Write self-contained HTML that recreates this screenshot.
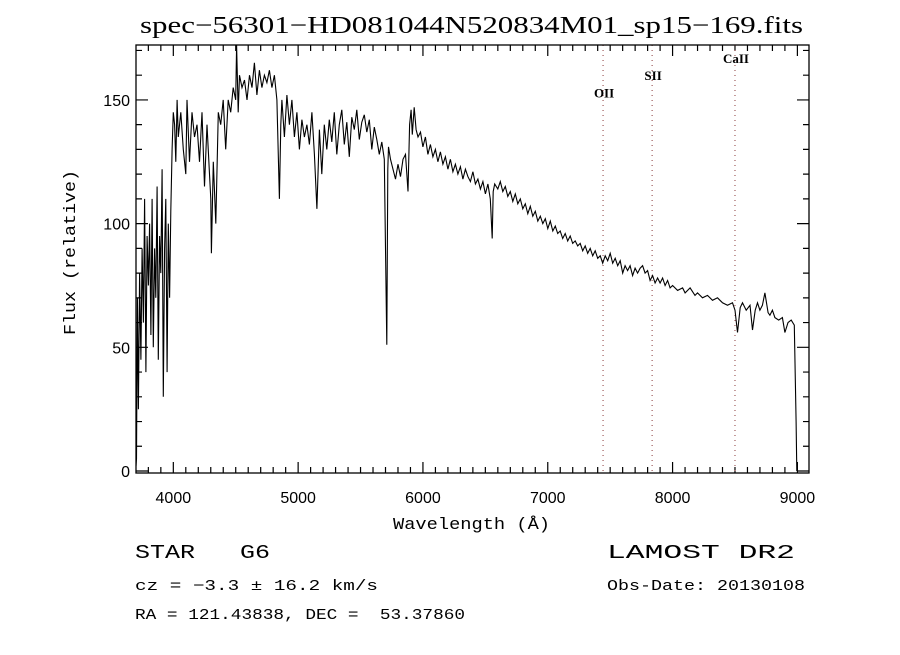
<!DOCTYPE html>
<html><head><meta charset="utf-8"><style>
body{margin:0;background:#fff;width:900px;height:650px;overflow:hidden}
svg text{fill:#000;white-space:pre}
</style></head><body>
<svg id="chart" width="900" height="650" xmlns="http://www.w3.org/2000/svg">
<rect width="900" height="650" fill="#fff"/>
<text x="140" y="33" textLength="663" lengthAdjust="spacingAndGlyphs" font-family="Liberation Serif, serif" font-size="24">spec−56301−HD081044N520834M01_sp15−169.fits</text>
<g id="ticks"></g>
<g id="lines"></g>
<g id="series"></g>
<rect x="136" y="45" width="673" height="428" fill="none" stroke="#000" stroke-width="1.3"/>
<text x="393" y="529" textLength="157" lengthAdjust="spacingAndGlyphs" font-family="Liberation Mono, monospace" font-size="17">Wavelength (Å)</text>
<text transform="translate(75,335) rotate(-90)" textLength="165" lengthAdjust="spacingAndGlyphs" font-family="Liberation Mono, monospace" font-size="17">Flux (relative)</text>
<text x="135" y="558" textLength="135" lengthAdjust="spacingAndGlyphs" font-family="Liberation Mono, monospace" font-size="19">STAR   G6</text>
<text x="135" y="590" textLength="243" lengthAdjust="spacingAndGlyphs" font-family="Liberation Mono, monospace" font-size="15">cz = −3.3 ± 16.2 km/s</text>
<text x="135" y="619" textLength="330" lengthAdjust="spacingAndGlyphs" font-family="Liberation Mono, monospace" font-size="15">RA = 121.43838, DEC =  53.37860</text>
<text x="607" y="558" textLength="188" lengthAdjust="spacingAndGlyphs" font-family="Liberation Mono, monospace" font-size="19">LAMOST DR2</text>
<text x="607" y="590" textLength="198" lengthAdjust="spacingAndGlyphs" font-family="Liberation Mono, monospace" font-size="15">Obs-Date: 20130108</text>
</svg>
<script>
const wave=[3701,3705,3712,3720,3730,3740,3750,3760,3770,3780,3790,3800,3810,3820,3830,3840,3850,3860,3870,3880,3890,3900,3910,3920,3930,3940,3950,3960,3970,3980,3990,4000,4010,4020,4030,4040,4060,4080,4100,4110,4130,4150,4170,4190,4210,4230,4250,4270,4290,4300,4305,4320,4340,4360,4380,4400,4420,4440,4460,4480,4500,4507,4520,4530,4550,4570,4590,4610,4630,4650,4670,4690,4710,4730,4750,4770,4790,4810,4830,4850,4861,4870,4890,4910,4930,4950,4970,4990,5010,5030,5050,5070,5090,5110,5130,5150,5170,5190,5210,5230,5250,5270,5290,5310,5330,5350,5370,5390,5410,5430,5450,5470,5490,5510,5530,5550,5570,5590,5610,5630,5650,5670,5690,5710,5718,5724,5740,5760,5780,5800,5820,5840,5860,5880,5893,5905,5915,5930,5945,5960,5980,6000,6020,6040,6060,6080,6100,6120,6140,6160,6180,6200,6220,6240,6260,6280,6300,6320,6340,6360,6380,6400,6420,6440,6460,6480,6500,6520,6540,6555,6563,6575,6600,6620,6640,6660,6680,6700,6720,6740,6760,6780,6800,6820,6840,6860,6880,6900,6920,6940,6960,6980,7000,7020,7040,7060,7080,7100,7120,7140,7160,7180,7200,7220,7240,7260,7280,7300,7320,7340,7360,7380,7400,7420,7440,7460,7480,7500,7520,7540,7560,7580,7600,7620,7640,7660,7680,7700,7720,7740,7760,7780,7800,7820,7840,7860,7880,7900,7920,7940,7960,7980,8000,8040,8080,8100,8140,8180,8200,8240,8280,8320,8360,8400,8440,8480,8500,8520,8542,8560,8590,8620,8640,8662,8680,8700,8720,8740,8765,8780,8800,8820,8850,8880,8900,8925,8950,8975,8990,8995,9000];
const flux=[2,5,70,25,80,45,90,60,110,40,95,75,100,55,110,50,90,70,115,45,95,80,122,30,90,110,40,100,70,105,130,145,140,125,150,135,145,130,120,150,125,145,135,140,125,145,115,140,120,110,88,125,100,145,140,150,130,150,145,155,150,172,145,160,155,158,150,160,155,165,152,162,155,160,157,162,155,160,150,110,140,150,135,152,140,150,135,145,130,142,135,140,132,145,128,106,138,120,140,130,142,133,145,128,140,146,132,141,127,143,138,146,134,141,144,137,142,130,139,134,128,133,126,51,122,131,126,122,118,124,119,126,128,113,140,146,136,147,138,135,137,131,135,128,132,127,130,125,129,124,127,122,126,121,124,120,123,118,122,119,117,121,116,118,114,117,112,116,110,94,113,116,114,117,113,115,111,113,109,112,108,110,106,108,104,107,103,105,101,103,100,102,98,101,97,99,96,97,94,96,93,95,92,93,91,92,89,91,88,90,87,89,86,87,84,87,85,88,84,86,83,85,80,83,81,83,79,82,80,82,83,80,81,77,79,76,78,76,78,75,77,74,75,73,74,72,74,71,72,70,71,69,70,68,67,68,65,56,66,68,65,67,57,65,68,65,67,72,64,63,65,62,61,62,56,60,61,59,20,0];
const xTicks=[4000,5000,6000,7000,8000,9000];
const yTicks=[0,50,100,150];
const lineNames=["OII","SII","CaII"];
const lineWaves=[7443,7836,8500];
const lineLabelFlux=[151,158,165];

const X0=136,X1=809,Y0=473,Y1=45,WMIN=3701,WMAX=9093,FMIN=-0.8,FMAX=172.2;
const sx=w=>X0+(w-WMIN)/(WMAX-WMIN)*(X1-X0);
const sy=f=>Y0-(f-FMIN)/(FMAX-FMIN)*(Y0-Y1);
const NS="http://www.w3.org/2000/svg";
function mk(tag,parent){const e=document.createElementNS(NS,tag);parent.appendChild(e);return e;}
const tg=document.getElementById('ticks');
let d="";
for(let w=3800;w<=9000;w+=100){const x=sx(w);const L=(w%1000===0)?11:6;d+=`M${x},${Y0}v${-L}M${x},${Y1}v${L}`;}
for(let f=0;f<=170;f+=10){const y=sy(f);const L=(f%50===0)?12:6;d+=`M${X0},${y}h${L}M${X1},${y}h${-L}`;}
const tp=mk('path',tg);


tp.setAttribute('d',d);tp.setAttribute('stroke','#000');tp.setAttribute('stroke-width','1.2');tp.setAttribute('fill','none');
xTicks.forEach(v=>{const t=mk('text',tg);


t.setAttribute('x',sx(v));t.setAttribute('y',503);t.setAttribute('text-anchor','middle');t.setAttribute('font-family','Liberation Sans, sans-serif');t.setAttribute('font-size','16');t.textContent=v;});
yTicks.forEach(v=>{const t=mk('text',tg);


t.setAttribute('x',130);t.setAttribute('y',sy(v)+6);t.setAttribute('text-anchor','end');t.setAttribute('font-family','Liberation Sans, sans-serif');t.setAttribute('font-size','16');t.textContent=v;});
const lg=document.getElementById('lines');
lineWaves.forEach((w,i)=>{const l=mk('line',lg);


l.setAttribute('x1',sx(w));l.setAttribute('x2',sx(w));l.setAttribute('y1',Y1);l.setAttribute('y2',Y0);l.setAttribute('stroke','#8b3a3a');l.setAttribute('stroke-dasharray','1,4');l.setAttribute('stroke-width','1');
const t=mk('text',lg);


t.setAttribute('x',sx(w)+1);t.setAttribute('y',sy(lineLabelFlux[i]));t.setAttribute('text-anchor','middle');t.setAttribute('font-family','Liberation Serif, serif');t.setAttribute('font-size','13');t.setAttribute('font-weight','bold');t.textContent=lineNames[i];});
const sg=document.getElementById('series');
const p=mk('path',sg);


p.setAttribute('d',wave.map((w,i)=>(i?'L':'M')+sx(w).toFixed(1)+','+sy(flux[i]).toFixed(1)).join(''));
p.setAttribute('fill','none');p.setAttribute('stroke','#000');p.setAttribute('stroke-width','1.1');
</script>
</body></html>
